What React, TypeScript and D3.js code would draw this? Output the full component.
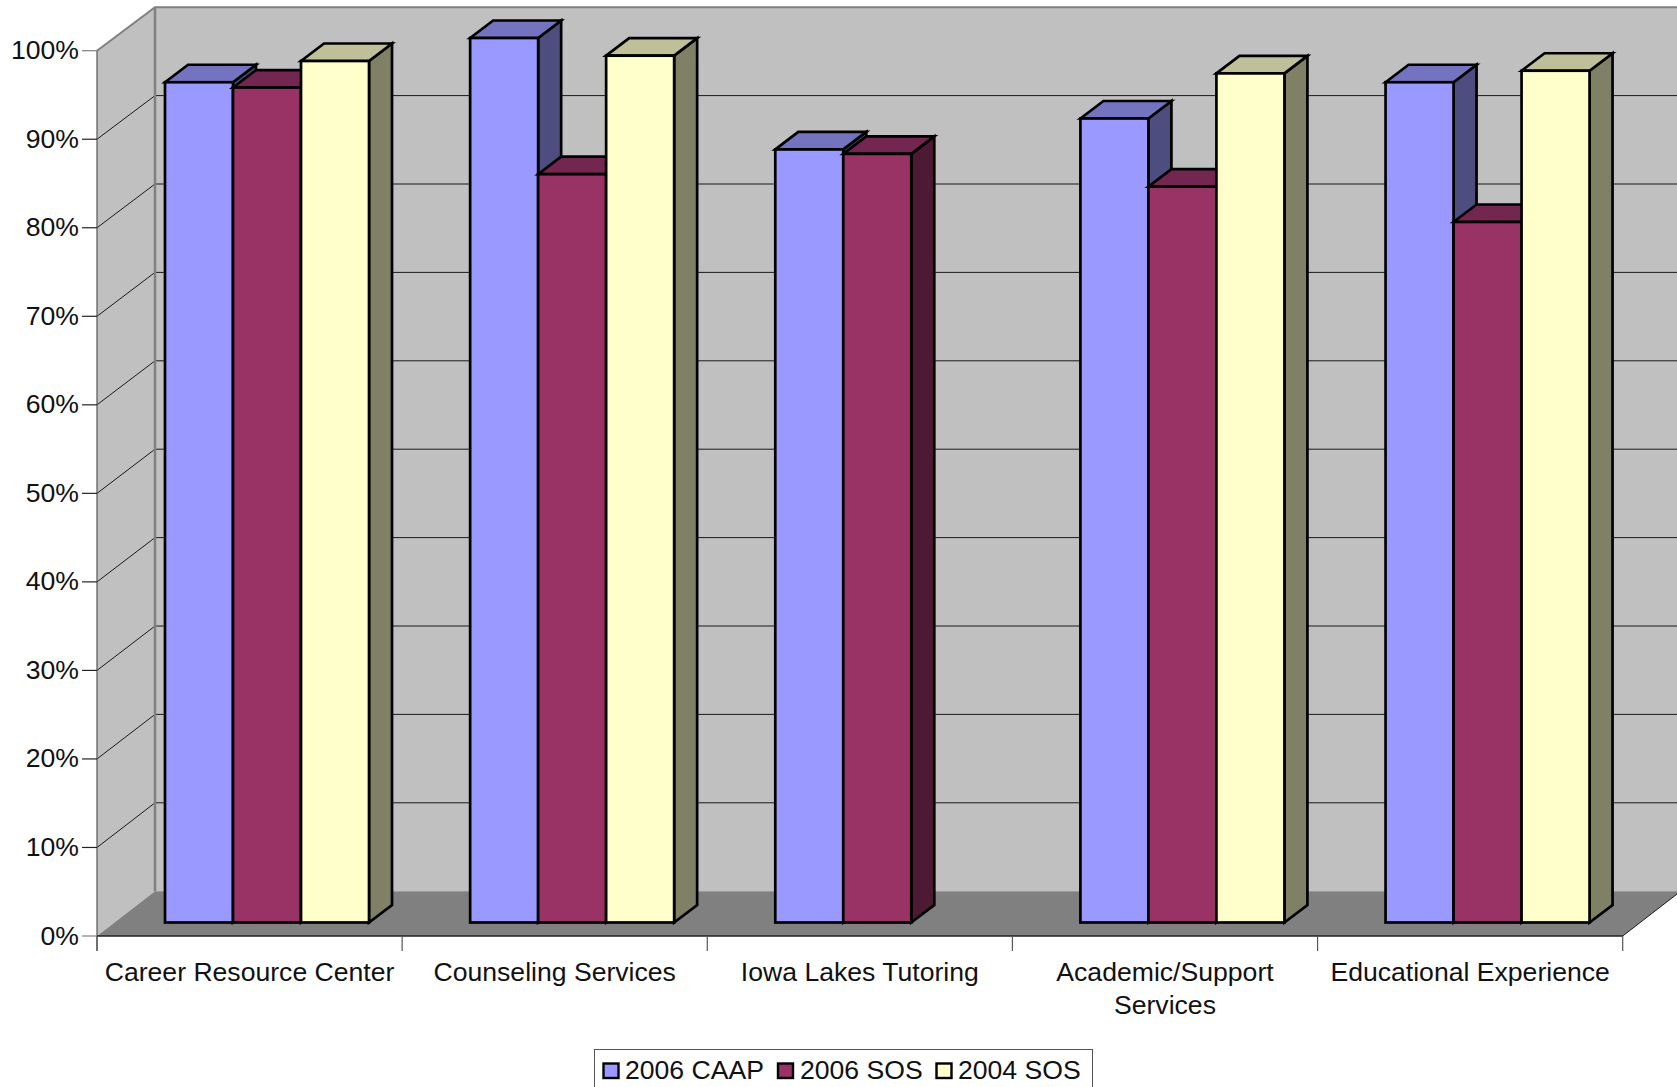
import React from "react";
import * as d3 from "d3";

const categories = [
  ["Career Resource Center"],
  ["Counseling Services"],
  ["Iowa Lakes Tutoring"],
  ["Academic/Support", "Services"],
  ["Educational Experience"],
];
const seriesNames = ["2006 CAAP", "2006 SOS", "2004 SOS"];
const caap2006: (number | null)[] = [95, 100, 87.4, 90.9, 95];
const sos2006: (number | null)[] = [94.4, 84.6, 86.9, 83.2, 79.2];
const sos2004: (number | null)[] = [97.4, 98, null, 96, 96.3];
const series = [caap2006, sos2006, sos2004];
const frontColors = ["#9999FF", "#993366", "#FFFFCC"];
const topColors = ["#7373BF", "#732650", "#BFBF99"];
const sideColors = ["#4D4D80", "#4D1A33", "#808066"];
const legendSwatchX = [603.5, 778, 936.5];
const legendTextX = [625, 800, 958];

const W = 1677, H = 1087;
const axisLeft = 97, axisRight = 1622.7, y0 = 936, y100 = 50.7;
const wallDx = 58;
const barDx = 23, barDy = -17.5;
const barFloorY = 922.5, barTop100 = 38, barW = 68, barOffset = 68;
const FONT = "'Liberation Sans', Arial, sans-serif";
const FS = 26.6;

const yAxis = d3.scaleLinear().domain([0, 100]).range([y0, y100]);
const yWall = d3.scaleLinear().domain([0, 100]).range([891.2, 7.2]);
const yBar = d3.scaleLinear().domain([0, 100]).range([barFloorY, barTop100]);
const xCat = d3.scaleBand<number>().domain(d3.range(5)).range([axisLeft, axisRight]);
const ticks = d3.range(0, 101, 10);
const backX = axisLeft + wallDx;

const poly = (pts: number[][]) => d3.line()(pts as [number, number][]) + "Z";

export default function App() {
  return (
    <svg width={W} height={H} style={{ position: "absolute", left: 0, top: 0, display: "block", background: "#fff" }} fontFamily={FONT}>
      {/* walls */}
      <path d={poly([[axisLeft, y0], [backX, yWall(0)], [backX, yWall(100)], [axisLeft, y100]])} fill="#C0C0C0" />
      <path d={poly([[backX, yWall(0)], [W, yWall(0)], [W, yWall(100)], [backX, yWall(100)]])} fill="#C0C0C0" />
      <path d={poly([[axisLeft, y0], [backX, yWall(0)], [axisRight + wallDx, yWall(0)], [axisRight, y0]])} fill="#808080" />
      {/* gridlines */}
      {ticks.slice(1, -1).map((t) => (
        <g key={t}>
          <line x1={backX} x2={W} y1={yWall(t)} y2={yWall(t)} stroke="#1a1a1a" strokeWidth={1} />
          <line x1={axisLeft} x2={backX} y1={yAxis(t)} y2={yWall(t)} stroke="#1a1a1a" strokeWidth={1} />
        </g>
      ))}
      {/* wall borders */}
      <path d={`M${axisLeft},${y100}L${backX},${yWall(100)}H${W}`} fill="none" stroke="#808080" strokeWidth={2} />
      <line x1={backX} x2={backX} y1={yWall(100)} y2={yWall(0)} stroke="#808080" strokeWidth={2.5} />
      <line x1={axisRight} x2={axisRight + wallDx} y1={y0} y2={yWall(0)} stroke="#1a1a1a" strokeWidth={1} />
      {/* y axis */}
      <line x1={axisLeft} x2={axisLeft} y1={y100} y2={y0 + 15} stroke="#555" strokeWidth={1.2} />
      {ticks.map((t) => (
        <g key={t}>
          <line x1={82} x2={axisLeft} y1={yAxis(t)} y2={yAxis(t)} stroke={t === 0 || t === 100 ? "#808080" : "#222"} strokeWidth={1.2} />
          <text x={79} y={yAxis(t) + 8.5} textAnchor="end" fontSize={FS} fill="#111">{t}%</text>
        </g>
      ))}
      {/* x axis */}
      <line x1={axisLeft} x2={axisRight} y1={y0} y2={y0} stroke="#222" strokeWidth={1.6} />
      {d3.range(6).map((i) => {
        const x = i < 5 ? (xCat(i) as number) : axisRight;
        return <line key={i} x1={x} x2={x} y1={y0} y2={y0 + 15} stroke="#555" strokeWidth={1.2} />;
      })}
      {categories.map((lines, i) => (
        <text key={i} x={(xCat(i) as number) + xCat.bandwidth() / 2} y={980.5} textAnchor="middle" fontSize={FS} fill="#111">
          {lines.map((l, j) => (
            <tspan key={j} x={(xCat(i) as number) + xCat.bandwidth() / 2} dy={j === 0 ? 0 : 33}>{l}</tspan>
          ))}
        </text>
      ))}
      {/* bars */}
      {categories.map((_, c) => (
        <g key={c}>
          {series.map((vals, s) => {
            const v = vals[c];
            if (v === null) return null;
            const x = (xCat(c) as number) + 68 + s * barOffset;
            const top = yBar(v);
            const stroke = { stroke: "#000", strokeWidth: 2.7, strokeLinejoin: "miter" as const };
            return (
              <g key={s}>
                <path d={poly([[x + barW, barFloorY], [x + barW + barDx, barFloorY + barDy], [x + barW + barDx, top + barDy], [x + barW, top]])} fill={sideColors[s]} {...stroke} />
                <path d={poly([[x, top], [x + barDx, top + barDy], [x + barW + barDx, top + barDy], [x + barW, top]])} fill={topColors[s]} {...stroke} />
                <rect x={x} y={top} width={barW} height={barFloorY - top} fill={frontColors[s]} {...stroke} />
              </g>
            );
          })}
        </g>
      ))}
      {/* legend */}
      <rect x={594.5} y={1049.5} width={498} height={60} fill="#fff" stroke="#555" strokeWidth={1} />
      {seriesNames.map((n, s) => (
        <g key={n}>
          <rect x={legendSwatchX[s]} y={1063.5} width={15} height={14.5} fill={frontColors[s]} stroke="#000" strokeWidth={2.4} />
          <text x={legendTextX[s]} y={1079} fontSize={FS} fill="#111">{n}</text>
        </g>
      ))}
    </svg>
  );
}
